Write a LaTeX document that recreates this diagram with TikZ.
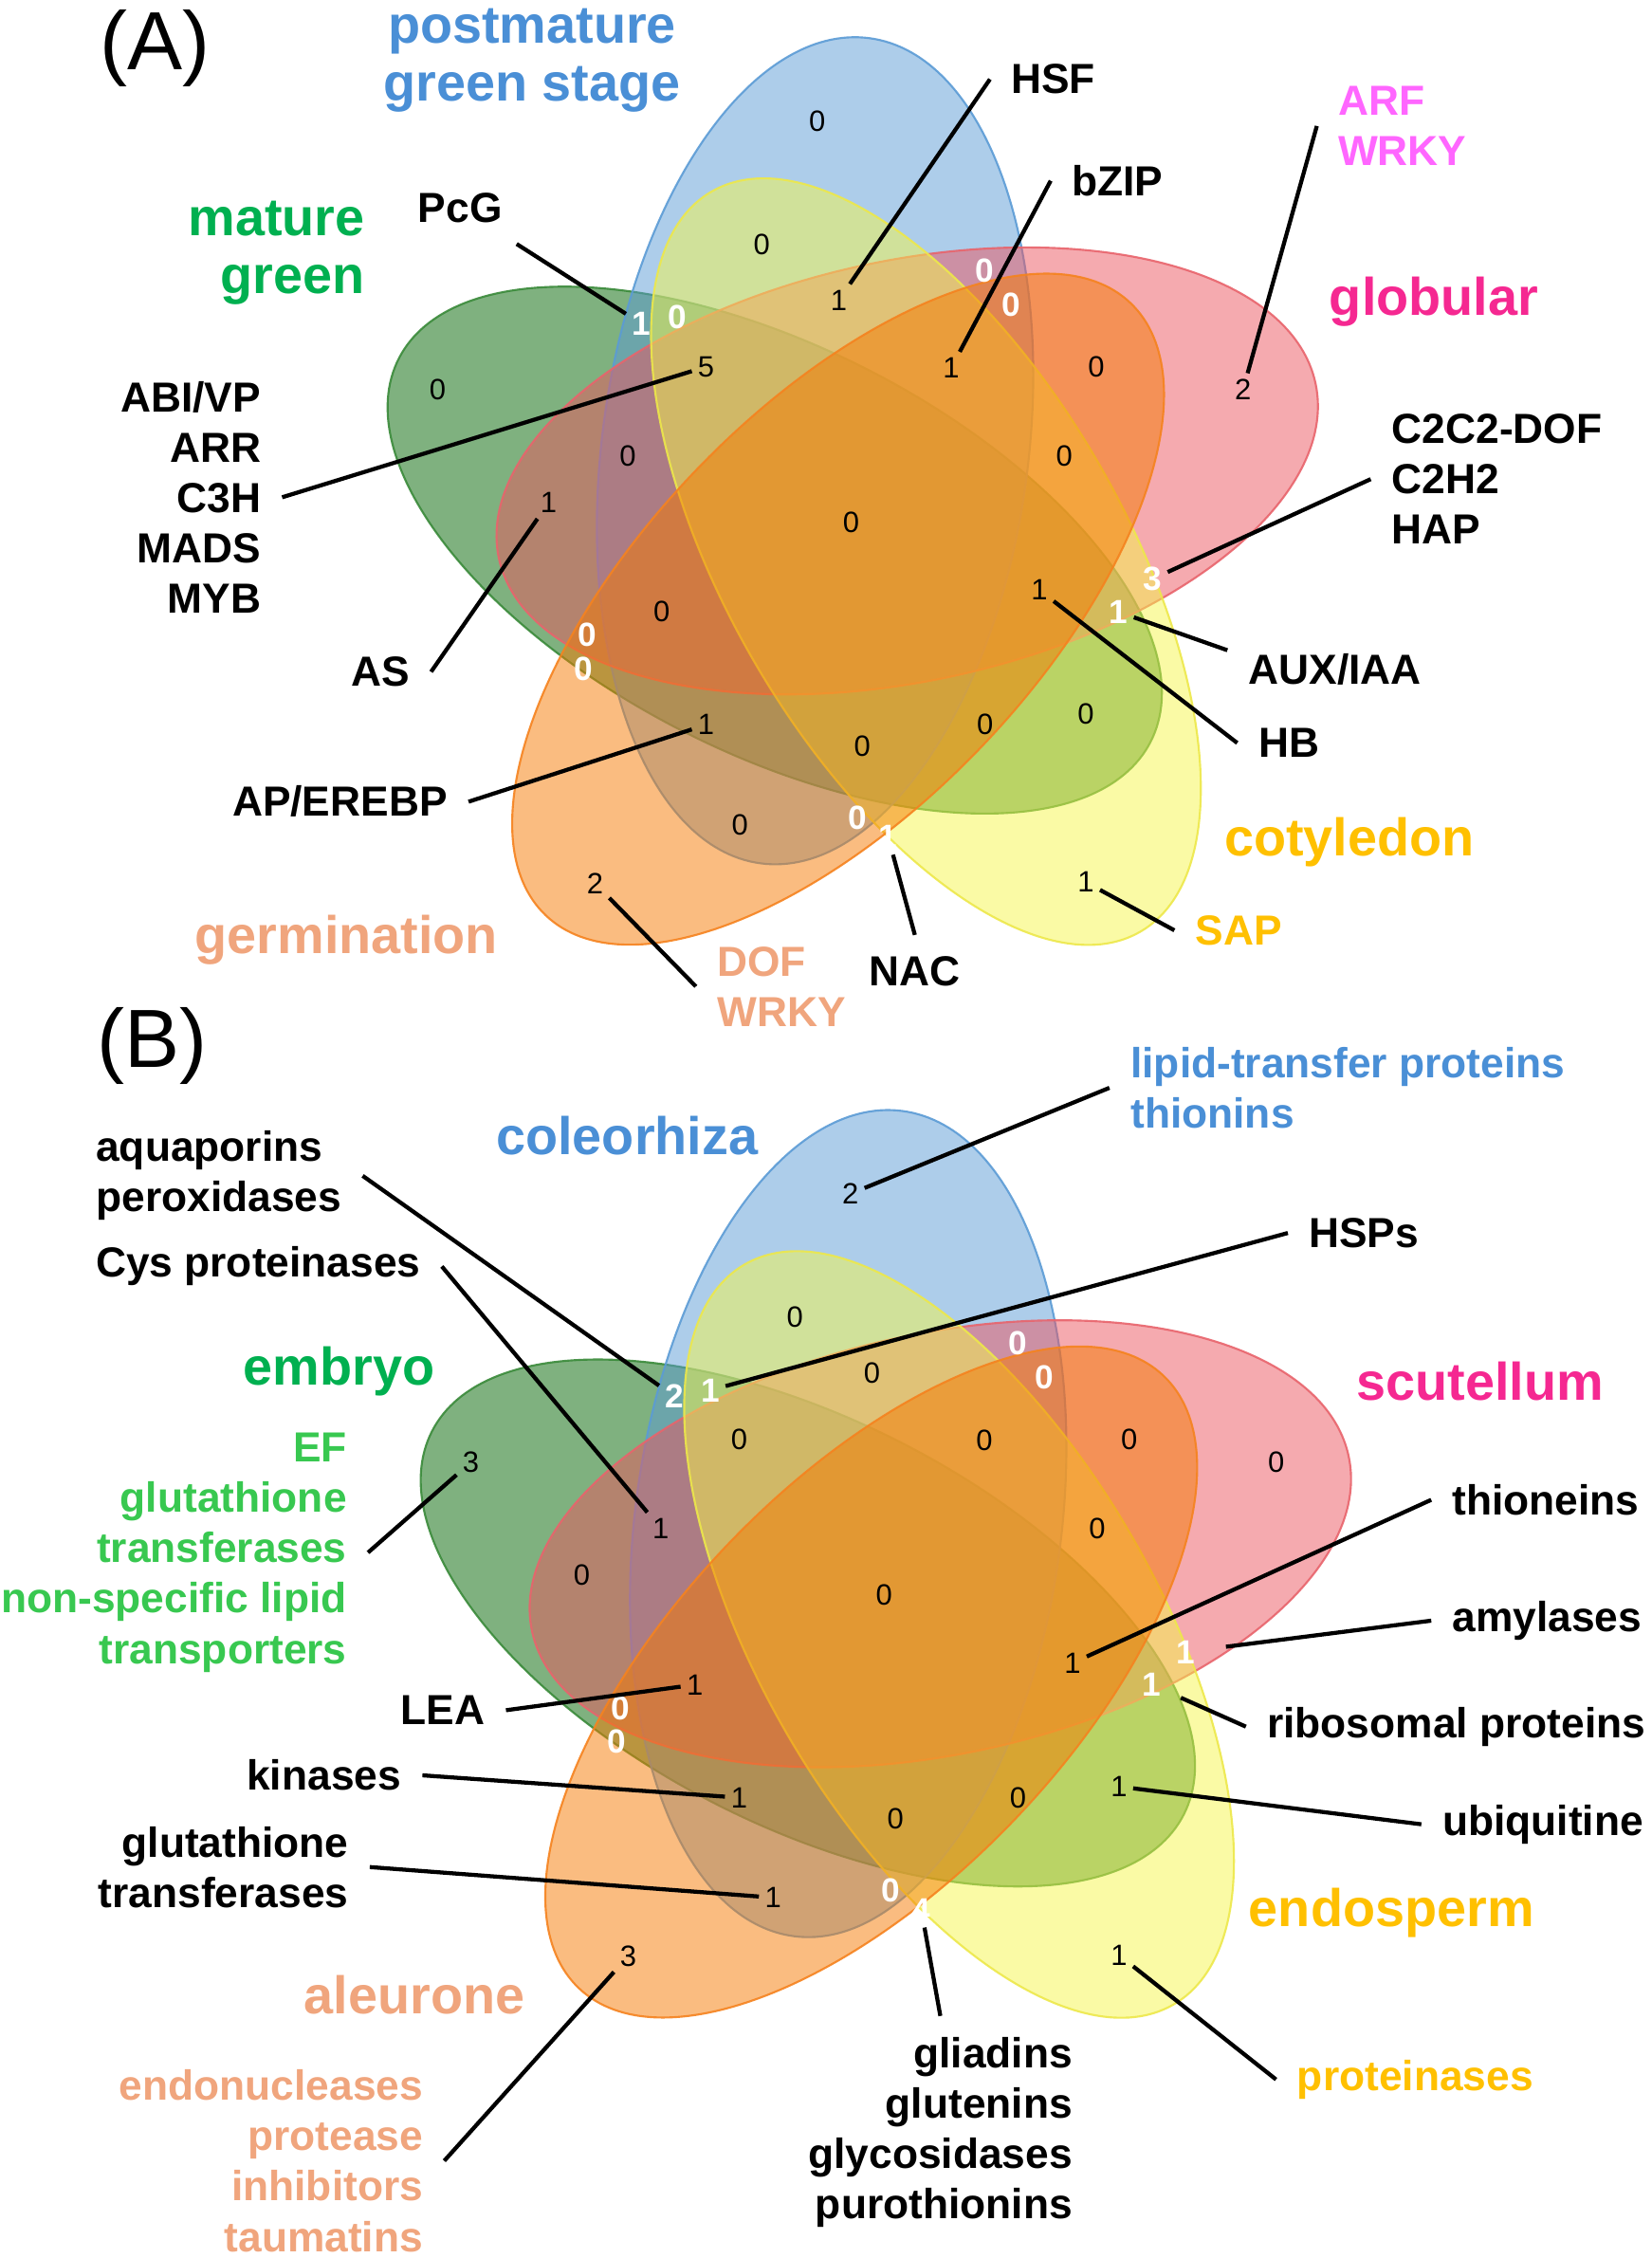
\documentclass[tikz,border=0pt]{standalone}
\usepackage{fontspec}
\setmainfont{Liberation Sans}
\setsansfont{Liberation Sans}
\tikzset{every picture/.style={/utils/exec={\sffamily}}}

\definecolor{vgreen}{HTML}{006400}
\definecolor{vgreenline}{HTML}{3A8A3A}
\definecolor{vblue}{HTML}{5B9BD5}
\definecolor{vred}{HTML}{EB555F}
\definecolor{vredline}{HTML}{E8646C}
\definecolor{vyellow}{HTML}{F5F54B}
\definecolor{vyellowline}{HTML}{EDE84A}
\definecolor{vorange}{HTML}{F57901}
\definecolor{vorangeline}{HTML}{F5831F}
\definecolor{tblue}{HTML}{4A8FD6}
\definecolor{tgreen}{HTML}{00B050}
\definecolor{tlgreen}{HTML}{38C850}
\definecolor{tmagenta}{HTML}{FF66FF}
\definecolor{tpink}{HTML}{F52891}
\definecolor{tgold}{HTML}{FFC000}
\definecolor{tsalmon}{HTML}{F0A57D}

\tikzset{
	venn/.style={fill opacity=0.5, draw opacity=0.9, line width=0.4pt},
	setg/.style={venn, fill=vgreen, draw=vgreenline},
	setb/.style={venn, fill=vblue, draw=vblue},
	setr/.style={venn, fill=vred, draw=vredline},
	sety/.style={venn, fill=vyellow, draw=vyellowline},
	seto/.style={venn, fill=vorange, draw=vorangeline},
	panel/.style={font=\fontsize{16.3}{18}\selectfont, inner sep=0pt},
	setlab/.style={font=\fontsize{10.45}{11.5}\selectfont\bfseries, inner sep=0pt, align=center},
	gene/.style={font=\fontsize{8.3}{9.96}\selectfont\bfseries, inner sep=4pt},
	num/.style={font=\fontsize{5.8}{6}\selectfont, inner sep=1pt},
	wnum/.style={font=\fontsize{6.6}{7}\selectfont\bfseries, text=white, inner sep=1pt},
	lead/.style={line width=0.8pt}
}

\begin{document}
\begin{tikzpicture}[x=0.01cm, y=-0.01cm]
		\useasboundingbox (0,0) rectangle (1147,1568);

		\draw[setg, shift={(538,382)}, rotate=-27] (0,0) ellipse [x radius=293, y radius=141];
		\draw[setb, shift={(566,313)}, rotate=82.5] (0,0) ellipse [x radius=289, y radius=148];
		\draw[setr, shift={(630,327)}, rotate=12.1] (0,0) ellipse [x radius=290, y radius=146];
		\draw[sety, shift={(643,390)}, rotate=-59.9] (0,0) ellipse [x radius=297, y radius=138];
		\draw[seto, shift={(582,423)}, rotate=46.3] (0,0) ellipse [x radius=294, y radius=138];

		\node[num] (a1) at (567.5,84) {0};
		\node[num] (a2) at (529,169.8) {0};
		\node[num] (a3) at (582.5,208.4) {1};
		\node[wnum] (a4) at (684,187.8) {0};
		\node[wnum] (a5) at (702.5,211.4) {0};
		\node[wnum] (a6) at (445.3,224.7) {1};
		\node[wnum] (a7) at (470.2,220.4) {0};
		\node[num] (a8) at (490.3,254.7) {5};
		\node[num] (a9) at (660.5,255.5) {1};
		\node[num] (a10) at (761.2,254.7) {0};
		\node[num] (a11) at (863.2,270.5) {2};
		\node[num] (a12) at (303.9,270.5) {0};
		\node[num] (a13) at (435.9,316.4) {0};
		\node[num] (a14) at (739,316.4) {0};
		\node[num] (a15) at (591,362.7) {0};
		\node[num] (a16) at (381,349) {1};
		\node[num] (a17) at (459.5,424.9) {0};
		\node[wnum] (a18) at (408,441.1) {0};
		\node[wnum] (a19) at (405.5,464.3) {0};
		\node[num] (a20) at (721.8,409.8) {1};
		\node[wnum] (a21) at (800.2,402.1) {3};
		\node[wnum] (a22) at (776.7,424.9) {1};
		\node[num] (a23) at (490.3,503.3) {1};
		\node[num] (a24) at (684,503.3) {0};
		\node[num] (a25) at (754,495.6) {0};
		\node[num] (a26) at (598.8,517.9) {0};
		\node[num] (a27) at (513.9,572.7) {0};
		\node[wnum] (a28) at (595.3,567.6) {0};
		\node[wnum] (a29) at (616.8,581.3) {1};
		\node[num] (a30) at (413.2,613.4) {2};
		\node[num] (a31) at (754,612.6) {1};

		\node[panel] (pa) at (107.8,33.5) {(A)};
		\node[setlab, text=tblue] (apost) at (369.5,42) {postmature\\green stage};
		\node[setlab, text=tgreen, align=right, anchor=east] (amat) at (254,175.5) {mature\\green};
		\node[setlab, text=tpink] (aglob) at (995.7,209.5) {globular};
		\node[setlab, text=tgold] (acoty) at (937,584.5) {cotyledon};
		\node[setlab, text=tsalmon] (agerm) at (240.6,652.5) {germination};

		\node[gene] (pcg) at (319.5,144.3) {PcG};
		\node[gene] (hsf) at (731.4,55) {HSF};
		\node[gene] (bzip) at (776,125.5) {bZIP};
		\node[gene, text=tmagenta, align=left] (arf) at (973.8,87.5) {ARF\\WRKY};
		\node[gene, align=left] (c2c2) at (1039.6,332.7) {C2C2-DOF\\C2H2\\HAP};
		\node[gene, align=right] (abi) at (132.5,345.3) {ABI/VP\\ARR\\C3H\\MADS\\MYB};
		\node[gene] (as) at (264.3,466.5) {AS};
		\node[gene] (aux) at (927.1,464.7) {AUX/IAA};
		\node[gene] (hb) at (895,515.9) {HB};
		\node[gene] (ap) at (236,556.7) {AP/EREBP};
		\node[gene, text=tgold] (sap) at (860.3,646) {SAP};
		\node[gene, text=tsalmon, align=left] (dof) at (542.6,685) {DOF\\WRKY};
		\node[gene] (nac) at (635.3,674.3) {NAC};

		\draw[lead] (pcg) -- (a6);
		\draw[lead] (hsf.west) -- (a3);
		\draw[lead] (bzip.west) -- (a9);
		\draw[lead] (arf.west) -- (a11);
		\draw[lead] (abi.east) -- (a8);
		\draw[lead] (c2c2.west) -- (a21);
		\draw[lead] (as.east) -- (a16);
		\draw[lead] (aux.170) -- (a22);
		\draw[lead] (hb.west) -- (a20);
		\draw[lead] (ap.east) -- (a23);
		\draw[lead] (sap.west) -- (a31);
		\draw[lead] (dof.west) -- (a30);
		\draw[lead] (nac.north) -- (a29);

		\begin{scope}[shift={(23,745)}]
			\draw[setg, shift={(538,382)}, rotate=-27] (0,0) ellipse [x radius=293, y radius=141];
			\draw[setb, shift={(566,313)}, rotate=82.5] (0,0) ellipse [x radius=289, y radius=148];
			\draw[setr, shift={(630,327)}, rotate=12.1] (0,0) ellipse [x radius=290, y radius=146];
			\draw[sety, shift={(643,390)}, rotate=-59.9] (0,0) ellipse [x radius=297, y radius=138];
			\draw[seto, shift={(582,423)}, rotate=46.3] (0,0) ellipse [x radius=294, y radius=138];

			\node[num] (b1) at (567.5,84) {2};
			\node[num] (b2) at (529,169.8) {0};
			\node[num] (b3) at (582.5,208.4) {0};
			\node[wnum] (b4) at (684,187.8) {0};
			\node[wnum] (b5) at (702.5,211.4) {0};
			\node[wnum] (b6) at (445.3,224.7) {2};
			\node[wnum] (b7) at (470.2,220.4) {1};
			\node[num] (b8) at (490.3,254.7) {0};
			\node[num] (b9) at (660.5,255.5) {0};
			\node[num] (b10) at (761.2,254.7) {0};
			\node[num] (b11) at (863.2,270.5) {0};
			\node[num] (b12) at (303.9,270.5) {3};
			\node[num] (b13) at (435.9,316.4) {1};
			\node[num] (b14) at (739,316.4) {0};
			\node[num] (b15) at (591,362.7) {0};
			\node[num] (b16) at (381,349) {0};
			\node[num] (b17) at (459.5,424.9) {1};
			\node[wnum] (b18) at (408,441.1) {0};
			\node[wnum] (b19) at (405.5,464.3) {0};
			\node[num] (b20) at (721.8,409.8) {1};
			\node[wnum] (b21) at (800.2,402.1) {1};
			\node[wnum] (b22) at (776.7,424.9) {1};
			\node[num] (b23) at (490.3,503.3) {1};
			\node[num] (b24) at (684,503.3) {0};
			\node[num] (b25) at (754,495.6) {1};
			\node[num] (b26) at (598.8,517.9) {0};
			\node[num] (b27) at (513.9,572.7) {1};
			\node[wnum] (b28) at (595.3,567.6) {0};
			\node[wnum] (b29) at (616.8,581.3) {4};
			\node[num] (b30) at (413.2,613.4) {3};
			\node[num] (b31) at (754,612.6) {1};
		\end{scope}

		\node[panel] (pb) at (106,726.2) {(B)};
		\node[setlab, text=tblue] (bcole) at (435.5,788.6) {coleorhiza};
		\node[setlab, text=tgreen] (bembr) at (235.5,952) {embryo};
		\node[setlab, text=tpink] (bscut) at (1027.7,959.5) {scutellum};
		\node[setlab, text=tgold] (bendo) at (966.3,1328.1) {endosperm};
		\node[setlab, text=tsalmon] (baleu) at (287.8,1385.5) {aleurone};

		\node[gene, text=tblue, align=left] (lipid) at (936,755.4) {lipid-transfer proteins\\thionins};
		\node[gene, align=left] (aqua) at (151.9,816.5) {aquaporins\\peroxidases};
		\node[gene] (cys) at (179.3,879.4) {Cys proteinases};
		\node[gene] (hsps) at (947.2,856.2) {HSPs};
		\node[gene, text=tlgreen, align=right] (ef) at (120.8,1078.1) {EF\\glutathione\\transferases\\non-specific lipid\\transporters};
		\node[gene] (thion) at (1073.5,1041.5) {thioneins};
		\node[gene] (amyl) at (1074.4,1125.4) {amylases};
		\node[gene] (lea) at (307.4,1187.6) {LEA};
		\node[gene] (ribo) at (1011.3,1199) {ribosomal proteins};
		\node[gene] (kin) at (225,1232.8) {kinases};
		\node[gene] (ubiq) at (1071.5,1266.8) {ubiquitine};
		\node[gene, align=right] (gst) at (155.2,1296.5) {glutathione\\transferases};
		\node[gene, text=tgold] (prot) at (982.8,1444) {proteinases};
		\node[gene, align=right] (glia) at (653,1480.8) {gliadins\\glutenins\\glycosidases\\purothionins};
		\node[gene, text=tsalmon, align=right] (endo) at (188.3,1500.5) {endonucleases\\protease\\inhibitors\\taumatins};

		\draw[lead] (lipid.west) -- (b1);
		\draw[lead] (aqua.east) -- (b6);
		\draw[lead] (cys.east) -- (b13);
		\draw[lead] (hsps.west) -- (b7);
		\draw[lead] (ef.east) -- (b12);
		\draw[lead] (thion.west) -- (b20);
		\draw[lead, shorten >=5pt] (amyl.west) -- (b21);
		\draw[lead, shorten >=3pt] (ribo.west) -- (b22);
		\draw[lead] (ubiq.west) -- (b25);
		\draw[lead] (prot.west) -- (b31);
		\draw[lead] (glia.north) -- (b29);
		\draw[lead] (lea.east) -- (b17);
		\draw[lead] (kin.east) -- (b23);
		\draw[lead] (gst.east) -- (b27);
		\draw[lead] (endo.east) -- (b30);
	\end{tikzpicture}
\end{document}
